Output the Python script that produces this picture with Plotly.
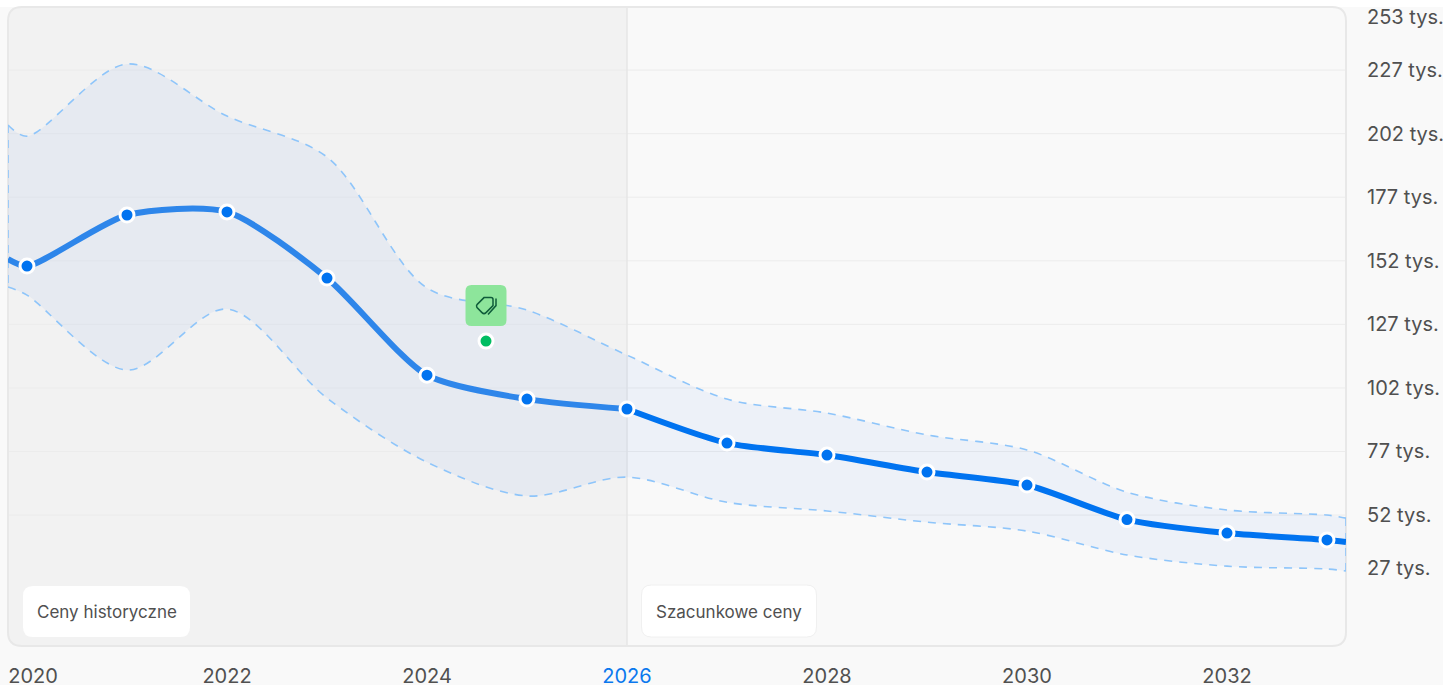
import plotly.graph_objects as go

years = [2020, 2021, 2022, 2023, 2024, 2025, 2026, 2027, 2028, 2029, 2030, 2031, 2032, 2033]
price = [149.9, 170.0, 171.2, 145.2, 107.0, 97.6, 93.7, 80.3, 75.6, 68.9, 63.8, 50.2, 44.9, 42.2]
upper = [201.0, 229.4, 208.9, 192.8, 141.3, 132.6, 114.9, 97.6, 92.1, 83.5, 77.6, 61.0, 54.0, 52.0]
lower = [138.5, 109.0, 133.0, 98.0, 72.8, 59.5, 66.9, 57.0, 53.6, 49.2, 45.7, 36.3, 31.9, 30.8]
edge_x = [2019.81, 2033.19]
price_edge = [152.7, 41.4]
upper_edge = [205.4, 50.8]
lower_edge = [141.7, 30.0]
grid_values = [227, 202, 177, 152, 127, 102, 77, 52]
ytick_positions = [247.8, 227, 202, 177, 152, 127, 102, 77, 52, 31.2]
ytick_labels = ["253 tys.", "227 tys.", "202 tys.", "177 tys.", "152 tys.", "127 tys.", "102 tys.", "77 tys.", "52 tys.", "27 tys."]
xtick_positions = [2020.06, 2022, 2024, 2026, 2028, 2030, 2032]
xtick_labels = ["2020", "2022", "2024", '<span style="color:#0b78ee">2026</span>', "2028", "2030", "2032"]
offer_x = [2024.59]
offer_y = [120.4]
split_year = 2026

W, H = 1338, 639
ML, MT, MR, MB = 8, 7, 97, 39
BLUE = "#0073f0"
HIST_BLUE = "#2e86ea"
DASH = "#8ec5fa"
TEXT = "#505050"


def rr(x0, y0, x1, y1, r=(10, 10, 10, 10)):
    """rounded rect in pixels, y up; r = tl, tr, br, bl"""
    tl, tr, br, bl = r
    return (f"M{x0+tl},{y1} L{x1-tr},{y1} Q{x1},{y1} {x1},{y1-tr} L{x1},{y0+br} Q{x1},{y0} {x1-br},{y0} "
            f"L{x0+bl},{y0} Q{x0},{y0} {x0},{y0+bl} L{x0},{y1-tl} Q{x0},{y1} {x0+tl},{y1} Z")


def px_shape(path, xa, ya, fill="rgba(0,0,0,0)", line=None, lw=0, layer="below", xref="paper", yref="paper"):
    return dict(type="path", path=path, xsizemode="pixel", ysizemode="pixel", xanchor=xa, yanchor=ya,
                xref=xref, yref=yref, fillcolor=fill, line=dict(color=line or "rgba(0,0,0,0)", width=lw), layer=layer)


split_px = (split_year - edge_x[0]) / (edge_x[1] - edge_x[0]) * W
shapes = [
    dict(type="rect", xref="paper", yref="paper", x0=-ML / W, x1=1 + MR / W, y0=1, y1=1 + MT / H,
         fillcolor="#ffffff", line=dict(width=0), layer="below"),
    px_shape(rr(0, 0, W, H, (14, 14, 14, 14)), 0, 0, fill="#f9f9f9"),
    px_shape(rr(0, 0, split_px, H, (14, 0, 0, 14)), 0, 0, fill="#f2f2f2"),
]
for g in grid_values:
    shapes.append(dict(type="line", xref="paper", x0=0, x1=1, yref="y", y0=g, y1=g,
                       line=dict(color="#ececec", width=1), layer="below"))
shapes.append(dict(type="line", xref="x", x0=split_year, x1=split_year, yref="paper", y0=0, y1=1,
                   line=dict(color="#e6e6e6", width=1.5), layer="below"))
shapes.append(px_shape(rr(0, 0, W, H, (14, 14, 14, 14)), 0, 0, line="#e8e8e8", lw=2, layer="below"))
# label boxes
shapes.append(px_shape(rr(15, 9, 182, 60), 0, 0, fill="#ffffff", layer="above"))
shapes.append(px_shape(rr(633.5, 9, 808.5, 61), 0, 0, fill="#ffffff", line="#f0f0f0", lw=1, layer="above"))
# offer tag
shapes.append(px_shape(rr(-20.5, 15, 20.5, 56, (6, 6, 6, 6)), offer_x[0], offer_y[0], fill="#8de59b",
                       layer="above", xref="x", yref="y"))
ICON = "#0f5c3a"
ic = 35.5
shapes.append(px_shape(f"M-9,{ic+1} L-2,{ic+8} L5,{ic+8} Q7,{ic+8} 7,{ic+6} L7,{ic} L0,{ic-7} Q-2,{ic-9} -4,{ic-7} L-9,{ic-2} Q-10,{ic} -9,{ic+1} Z",
                       offer_x[0], offer_y[0], line=ICON, lw=1.5, layer="above", xref="x", yref="y"))
shapes.append(px_shape(f"M10,{ic+7} L10,{ic} L2,{ic-9}", offer_x[0], offer_y[0], line=ICON, lw=1.5, layer="above", xref="x", yref="y"))

x_full = [edge_x[0]] + years + [edge_x[1]]
up_full = [upper_edge[0]] + upper + [upper_edge[1]]
lo_full = [lower_edge[0]] + lower + [lower_edge[1]]
pr_full = [price_edge[0]] + price + [price_edge[1]]
n = years.index(split_year) + 2

dash_line = dict(color=DASH, width=1.6, dash="8px,7px", shape="spline", smoothing=0.9)
fig = go.Figure()
fig.add_trace(go.Scatter(x=x_full, y=up_full, mode="lines", line=dash_line, hoverinfo="skip"))
fig.add_trace(go.Scatter(x=x_full, y=lo_full, mode="lines", line=dash_line, hoverinfo="skip",
                         fill="tonexty", fillcolor="rgba(0,95,235,0.047)"))
for i in (0, 1):
    fig.add_trace(go.Scatter(x=[edge_x[i], edge_x[i]], y=[up_full[-1 if i else 0], lo_full[-1 if i else 0]], mode="lines",
                             line=dict(color=DASH, width=1.6, dash="8px,7px"), hoverinfo="skip", cliponaxis=False))
fig.add_trace(go.Scatter(x=x_full[:n], y=pr_full[:n], mode="lines",
                         line=dict(color=HIST_BLUE, width=6, shape="spline", smoothing=0.7), hoverinfo="skip"))
fig.add_trace(go.Scatter(x=x_full[n - 1:], y=pr_full[n - 1:], mode="lines",
                         line=dict(color=BLUE, width=6, shape="spline", smoothing=0.7), hoverinfo="skip"))
fig.add_trace(go.Scatter(x=years, y=price, mode="markers",
                         marker=dict(size=14, color=BLUE, line=dict(color="#ffffff", width=3))))
fig.add_trace(go.Scatter(x=offer_x, y=offer_y, mode="markers",
                         marker=dict(size=14, color="#00bd62", line=dict(color="#ffffff", width=3))))

annots = [
    dict(xref="paper", yref="paper", x=98.5 / W, y=34.5 / H, text="Ceny historyczne", showarrow=False,
         xanchor="center", yanchor="middle", font=dict(family="Inter", size=17, color=TEXT)),
    dict(xref="paper", yref="paper", x=721 / W, y=34.5 / H, text="Szacunkowe ceny", showarrow=False,
         xanchor="center", yanchor="middle", font=dict(family="Inter", size=17, color=TEXT)),
]

fig.update_layout(
    width=1443, height=685, autosize=False, showlegend=False,
    margin=dict(l=ML, r=MR, t=MT, b=MB, pad=0),
    paper_bgcolor="#f9f9f9", plot_bgcolor="rgba(0,0,0,0)",
    shapes=shapes, annotations=annots,
    font=dict(family="Inter", size=20, color=TEXT),
    xaxis=dict(range=edge_x, automargin=False, tickmode="array", tickvals=xtick_positions, ticktext=xtick_labels,
               showgrid=False, zeroline=False, showline=False, ticks="outside", ticklen=12,
               tickcolor="rgba(0,0,0,0)", tickfont=dict(family="Inter", size=20, color=TEXT)),
    yaxis=dict(range=[0.5, 251.8], automargin=False, side="right", tickmode="array", tickvals=ytick_positions,
               ticktext=ytick_labels, showgrid=False, zeroline=False, showline=False, ticks="outside", ticklen=16,
               tickcolor="rgba(0,0,0,0)", tickfont=dict(family="Inter", size=20, color=TEXT)),
)
fig.write_html("out.html", config=dict(displayModeBar=False, responsive=False),
               post_script="document.body.style.margin='0';document.body.style.overflow='hidden';")
